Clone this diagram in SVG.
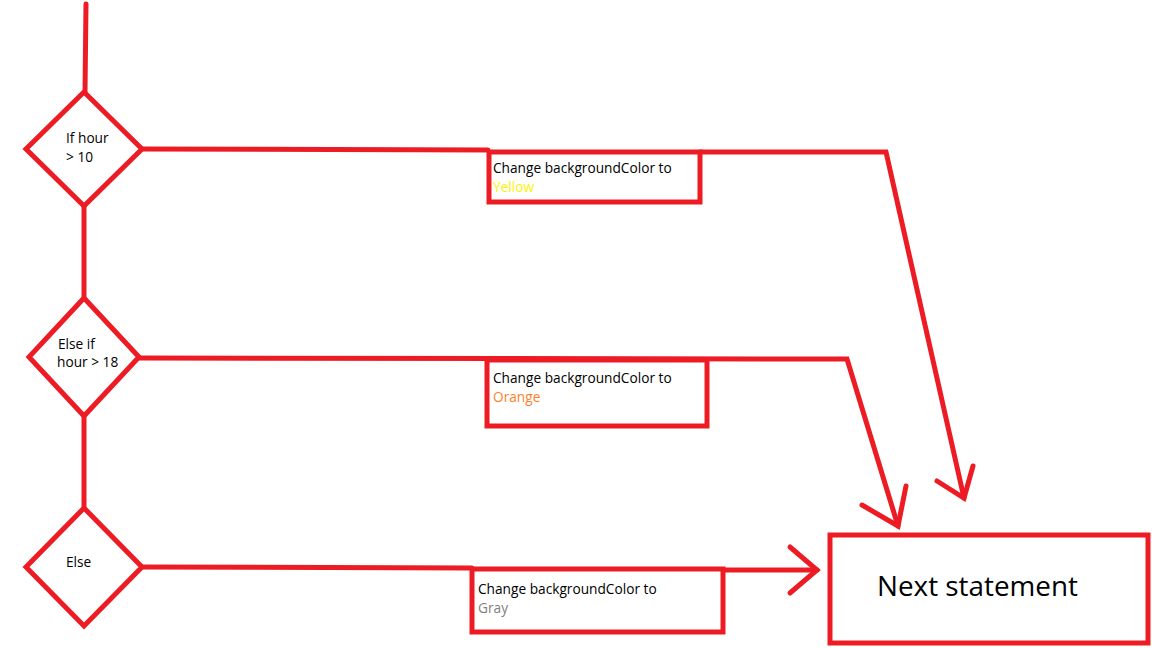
<svg xmlns="http://www.w3.org/2000/svg" width="1152" height="648" viewBox="0 0 1152 648">
<style>
.s{fill:none;stroke:#ED1C24;stroke-width:5;stroke-linecap:round;stroke-linejoin:miter}
.n{fill:#fff;stroke:#ED1C24;stroke-width:5}
.t{font-family:"Open Sans","Noto Sans","Liberation Sans",sans-serif;font-size:13.7px;fill:#000}
.big{font-family:"Open Sans","Noto Sans","Liberation Sans",sans-serif;font-size:27px;fill:#000}
</style>
<rect width="1152" height="648" fill="#fff"/>
<g id="connectors">
<path class="s" d="M86 4 L85 92"/>
<path class="s" d="M84 206 L84 297"/>
<path class="s" d="M84 416 L84 507"/>
<path class="s" d="M142 149 L488 150"/>
<path class="s" d="M700 152 L886 152 L964 498"/>
<path class="s" d="M937 481 L964 498 L973 466"/>
<path class="s" d="M139 358 L847 359 L898 526"/>
<path class="s" d="M862 505 L898 526 L906 486"/>
<path class="s" d="M142 567 L472 568"/>
<path class="s" d="M723 570 L817 570"/>
<path class="s" d="M790 547 L817 570 L790 593"/>
</g>
<g id="d1">
<polygon class="n" points="84,92 142,149 84,206 26,149"/>
<text class="t" x="66" y="143">If hour</text>
<text class="t" x="66" y="162">&gt; 10</text>
</g>
<g id="d2">
<polygon class="n" points="84,298 139,357 84,416 29,357"/>
<text class="t" x="58" y="349">Else if</text>
<text class="t" x="57" y="367">hour &gt; 18</text>
</g>
<g id="d3">
<polygon class="n" points="84,508 142,567 84,626 26,567"/>
<text class="t" x="66" y="567">Else</text>
</g>
<g id="b1">
<rect class="n" x="489" y="152" width="211" height="50"/>
<text class="t" x="493" y="173">Change backgroundColor to</text>
<text class="t" x="493" y="192" style="fill:#FFF200">Yellow</text>
</g>
<g id="b2">
<rect class="n" x="487" y="360" width="220" height="66"/>
<text class="t" x="493" y="383">Change backgroundColor to</text>
<text class="t" x="493" y="402" style="fill:#FF7F27">Orange</text>
</g>
<g id="b3">
<rect class="n" x="472" y="569" width="251" height="63"/>
<text class="t" x="478" y="594">Change backgroundColor to</text>
<text class="t" x="478" y="613" style="fill:#7F7F7F">Gray</text>
</g>
<g id="next">
<rect class="n" x="830" y="535" width="318" height="108"/>
<text class="big" x="877" y="596" textLength="201" lengthAdjust="spacingAndGlyphs">Next statement</text>
</g>
</svg>
